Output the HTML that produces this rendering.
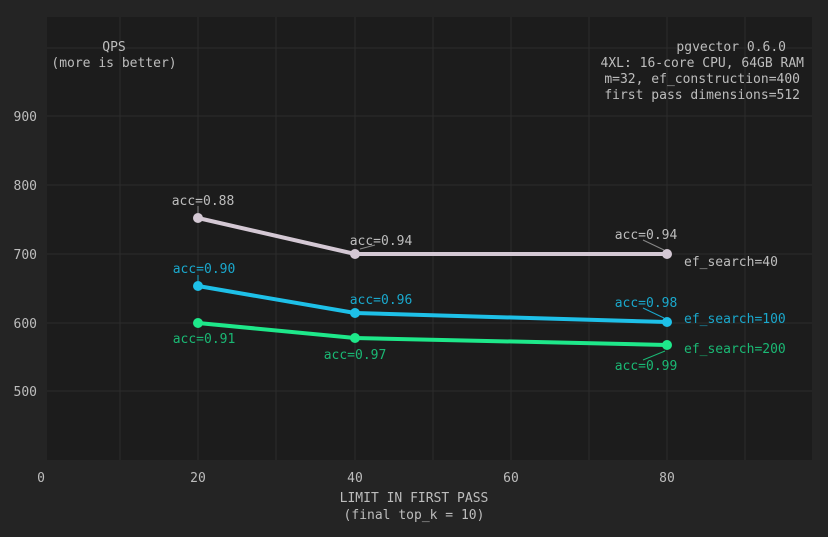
<!DOCTYPE html><html><head><style>body{margin:0;background:#242424;}svg text{font-family:"DejaVu Sans Mono","Liberation Mono",monospace;font-size:13px;}</style></head><body>
<svg width="828" height="532" xmlns="http://www.w3.org/2000/svg">
<rect width="828" height="532" fill="#242424"/>
<rect x="47" y="17" width="765" height="443" fill="#1c1c1c"/>
<g stroke="#2c2c2c" stroke-width="1">
<line x1="120" y1="17" x2="120" y2="460"/><line x1="198" y1="17" x2="198" y2="460"/><line x1="276" y1="17" x2="276" y2="460"/><line x1="355" y1="17" x2="355" y2="460"/><line x1="433" y1="17" x2="433" y2="460"/><line x1="511" y1="17" x2="511" y2="460"/><line x1="589" y1="17" x2="589" y2="460"/><line x1="667" y1="17" x2="667" y2="460"/><line x1="745" y1="17" x2="745" y2="460"/>
<line x1="47" y1="48" x2="812" y2="48"/><line x1="47" y1="116" x2="812" y2="116"/><line x1="47" y1="185" x2="812" y2="185"/><line x1="47" y1="254" x2="812" y2="254"/><line x1="47" y1="323" x2="812" y2="323"/><line x1="47" y1="391" x2="812" y2="391"/>
</g>
<g fill="#bdbdbd" text-anchor="end">
<text x="37" y="121">900</text><text x="37" y="190">800</text><text x="37" y="259">700</text><text x="37" y="328">600</text><text x="37" y="396">500</text>
</g>
<g fill="#bdbdbd" text-anchor="middle">
<text x="41" y="482">0</text><text x="198" y="482">20</text><text x="355" y="482">40</text><text x="511" y="482">60</text><text x="667" y="482">80</text>
<text x="414" y="502">LIMIT IN FIRST PASS</text><text x="414" y="519">(final top_k = 10)</text>
<text x="114" y="51">QPS</text><text x="114" y="67">(more is better)</text>
</g>
<g fill="#bdbdbd" text-anchor="end">
<text x="786" y="51">pgvector 0.6.0</text><text x="804" y="67">4XL: 16-core CPU, 64GB RAM</text><text x="800" y="83">m=32, ef_construction=400</text><text x="800" y="99">first pass dimensions=512</text>
</g>
<g stroke-width="1">
<line x1="198" y1="206" x2="198" y2="213" stroke="#888"/>
<line x1="360" y1="249" x2="375" y2="245" stroke="#888"/>
<line x1="643" y1="240" x2="664" y2="250" stroke="#888"/>
<line x1="198" y1="275" x2="198" y2="281" stroke="#1aa8cc"/>
<line x1="643" y1="308" x2="664" y2="318" stroke="#1aa8cc"/>
<line x1="643" y1="360" x2="665" y2="351" stroke="#1ab874"/>
</g>
<polyline points="198,218 355,254 667,254" fill="none" stroke="#d4c8d4" stroke-width="4"/>
<g fill="#d4c8d4"><circle cx="198" cy="218" r="5"/><circle cx="355" cy="254" r="5"/><circle cx="667" cy="254" r="5"/></g>
<g fill="#bdbdbd" text-anchor="middle"><text x="203" y="205">acc=0.88</text><text x="381" y="245">acc=0.94</text><text x="646" y="239">acc=0.94</text></g>
<text x="684" y="266" fill="#bdbdbd">ef_search=40</text>
<polyline points="198,286 355,313 667,322" fill="none" stroke="#1ec0e8" stroke-width="4"/>
<g fill="#1ec0e8"><circle cx="198" cy="286" r="5"/><circle cx="355" cy="313" r="5"/><circle cx="667" cy="322" r="5"/></g>
<g fill="#1aa8cc" text-anchor="middle"><text x="204" y="273">acc=0.90</text><text x="381" y="304">acc=0.96</text><text x="646" y="307">acc=0.98</text></g>
<text x="684" y="323" fill="#1aa8cc">ef_search=100</text>
<polyline points="198,323 355,338 667,345" fill="none" stroke="#1ee88a" stroke-width="4"/>
<g fill="#1ee88a"><circle cx="198" cy="323" r="5"/><circle cx="355" cy="338" r="5"/><circle cx="667" cy="345" r="5"/></g>
<g fill="#1ab874" text-anchor="middle"><text x="204" y="343">acc=0.91</text><text x="355" y="359">acc=0.97</text><text x="646" y="370">acc=0.99</text></g>
<text x="684" y="353" fill="#1ab874">ef_search=200</text>
</svg></body></html>
